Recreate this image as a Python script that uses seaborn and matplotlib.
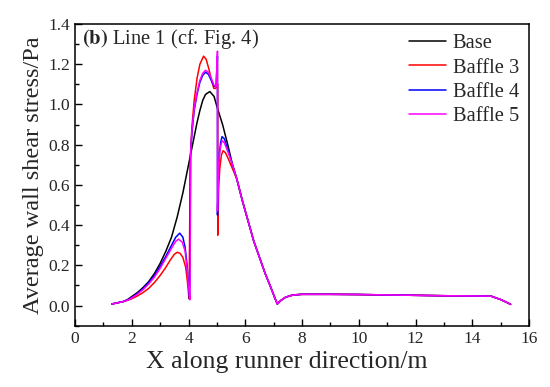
import pandas as pd
import seaborn as sns
import matplotlib.pyplot as plt
from matplotlib.ticker import MultipleLocator

# ------------------------------------------------------------------
# Data (x in m, stress in Pa)
# ------------------------------------------------------------------
# shared tail: all four cases collapse onto one curve past x ~ 5.7 m
tail_x = [5.7, 5.9, 6.1, 6.3, 6.5, 6.7, 6.9, 7.05, 7.13, 7.25, 7.4, 7.6, 7.8,
          8.0, 9.0, 10.0, 11.0, 12.0, 13.0, 14.0, 14.66, 15.0, 15.2, 15.35]
tail_y = [0.63, 0.52, 0.42, 0.32, 0.24, 0.16, 0.09, 0.035, 0.008, 0.025, 0.04,
          0.05, 0.054, 0.056, 0.056, 0.055, 0.053, 0.051, 0.049, 0.048, 0.047,
          0.03, 0.017, 0.006]

base_x = [1.3, 1.5, 1.7, 1.85, 2.0, 2.2, 2.4, 2.6, 2.8, 3.0, 3.2, 3.4, 3.6,
          3.8, 3.9, 4.0, 4.1, 4.2, 4.3, 4.4, 4.5, 4.6, 4.75, 4.9, 5.0, 5.2,
          5.4, 5.55]
base_y = [0.008, 0.014, 0.02, 0.03, 0.045, 0.065, 0.09, 0.12, 0.16, 0.21,
          0.27, 0.34, 0.44, 0.56, 0.63, 0.70, 0.77, 0.84, 0.91, 0.97, 1.02,
          1.05, 1.064, 1.04, 0.99, 0.90, 0.79, 0.70]

baffle3_x = [1.3, 1.5, 1.7, 1.85, 2.0, 2.2, 2.4, 2.6, 2.8, 3.0, 3.2, 3.35,
             3.5, 3.6, 3.7, 3.8, 3.9, 3.96, 4.0, 4.02, 4.06, 4.12, 4.2, 4.3,
             4.4, 4.53, 4.62, 4.72, 4.82, 4.89, 4.96, 5.03, 5.03, 5.06, 5.1,
             5.16, 5.22, 5.3, 5.4, 5.55]
baffle3_y = [0.008, 0.014, 0.02, 0.026, 0.034, 0.048, 0.065, 0.086, 0.115,
             0.15, 0.19, 0.225, 0.255, 0.265, 0.26, 0.24, 0.19, 0.12, 0.06,
             0.035, 0.72, 0.89, 1.02, 1.13, 1.20, 1.24, 1.225, 1.175, 1.115,
             1.08, 1.08, 1.10, 0.35, 0.58, 0.68, 0.75, 0.77, 0.76, 0.73, 0.68]

baffle4_x = [1.3, 1.5, 1.7, 1.85, 2.0, 2.2, 2.4, 2.6, 2.8, 3.0, 3.2, 3.4,
             3.55, 3.69, 3.8, 3.88, 3.95, 4.0, 4.04, 4.07, 4.12, 4.2, 4.3,
             4.4, 4.5, 4.6, 4.7, 4.8, 4.9, 4.97, 5.02, 5.02, 5.05, 5.09, 5.13,
             5.18, 5.26, 5.4, 5.55]
baffle4_y = [0.008, 0.014, 0.02, 0.028, 0.04, 0.06, 0.085, 0.115, 0.15,
             0.195, 0.245, 0.30, 0.34, 0.36, 0.34, 0.29, 0.2, 0.1, 0.03, 0.75,
             0.86, 0.97, 1.05, 1.11, 1.145, 1.16, 1.15, 1.12, 1.09, 1.09,
             1.24, 0.45, 0.66, 0.76, 0.81, 0.84, 0.83, 0.77, 0.70]

baffle5_x = [1.3, 1.5, 1.7, 1.85, 2.0, 2.2, 2.4, 2.6, 2.8, 3.0, 3.2, 3.4,
             3.55, 3.65, 3.78, 3.88, 3.95, 4.0, 4.05, 4.08, 4.12, 4.2, 4.3,
             4.4, 4.5, 4.6, 4.7, 4.8, 4.9, 4.97, 5.02, 5.02, 5.05, 5.09, 5.13,
             5.18, 5.26, 5.4, 5.55]
baffle5_y = [0.008, 0.014, 0.02, 0.027, 0.038, 0.057, 0.08, 0.108, 0.142,
             0.185, 0.235, 0.285, 0.32, 0.33, 0.315, 0.27, 0.18, 0.09, 0.03,
             0.78, 0.87, 0.98, 1.06, 1.12, 1.155, 1.17, 1.16, 1.13, 1.095,
             1.09, 1.265, 0.47, 0.65, 0.75, 0.79, 0.82, 0.81, 0.76, 0.70]

cases = ["Base", "Baffle 3", "Baffle 4", "Baffle 5"]
colors = ["#000000", "#FF0000", "#0000FF", "#FF00FF"]

frames = []
for name, xs, ys in zip(cases,
                        [base_x, baffle3_x, baffle4_x, baffle5_x],
                        [base_y, baffle3_y, baffle4_y, baffle5_y]):
    frames.append(pd.DataFrame({"x": xs + tail_x, "y": ys + tail_y,
                                "case": name}))
df = pd.concat(frames, ignore_index=True)

# ------------------------------------------------------------------
# Plot
# ------------------------------------------------------------------
sns.set_style("ticks")
plt.rcParams["font.family"] = ["Liberation Serif", "DejaVu Serif"]
plt.rcParams["mathtext.fontset"] = "stix"

fig = plt.figure(figsize=(5.5, 3.87), dpi=100)
ax = fig.add_axes([0.1364, 0.1584, 0.8255, 0.7796])

sns.lineplot(data=df, x="x", y="y", hue="case", palette=colors,
             hue_order=cases, sort=False, estimator=None, units="case",
             linewidth=1.1, ax=ax)

ax.set_xlim(0, 16)
ax.set_ylim(-0.1, 1.4)
ax.xaxis.set_major_locator(MultipleLocator(2))
ax.xaxis.set_minor_locator(MultipleLocator(1))
ax.yaxis.set_minor_locator(MultipleLocator(0.1))
yt = [0.0, 0.2, 0.4, 0.6, 0.8, 1.0, 1.2, 1.4]
ax.set_yticks(yt)
ax.set_yticklabels([f"{v:.1f}" for v in yt])
ax.tick_params(which="both", direction="in", top=False, right=False,
               labelsize=12.5, color="black")
ax.tick_params(which="major", length=5, width=1)
ax.tick_params(which="minor", length=3, width=1)
for sp in ax.spines.values():
    sp.set_visible(True)
    sp.set_linewidth(1.1)
    sp.set_color("black")

ax.set_xlabel("X along runner direction/m", fontsize=18.5, labelpad=2)
ax.xaxis.set_label_coords(0.467, -0.085)
ax.set_ylabel("Average wall shear stress/Pa", fontsize=17.5, labelpad=3)

ax.text(0.015, 0.95, r"$\mathbf{(b)}$ Line 1 (cf. Fig. 4)", transform=ax.transAxes,
        fontsize=14.8, ha="left", va="center")

ax.legend(loc="upper right", frameon=False, fontsize=14.8, handlelength=1.8,
          handletextpad=0.35, labelspacing=0.24, borderaxespad=0.08)

fig.savefig("out.png", dpi=100)
